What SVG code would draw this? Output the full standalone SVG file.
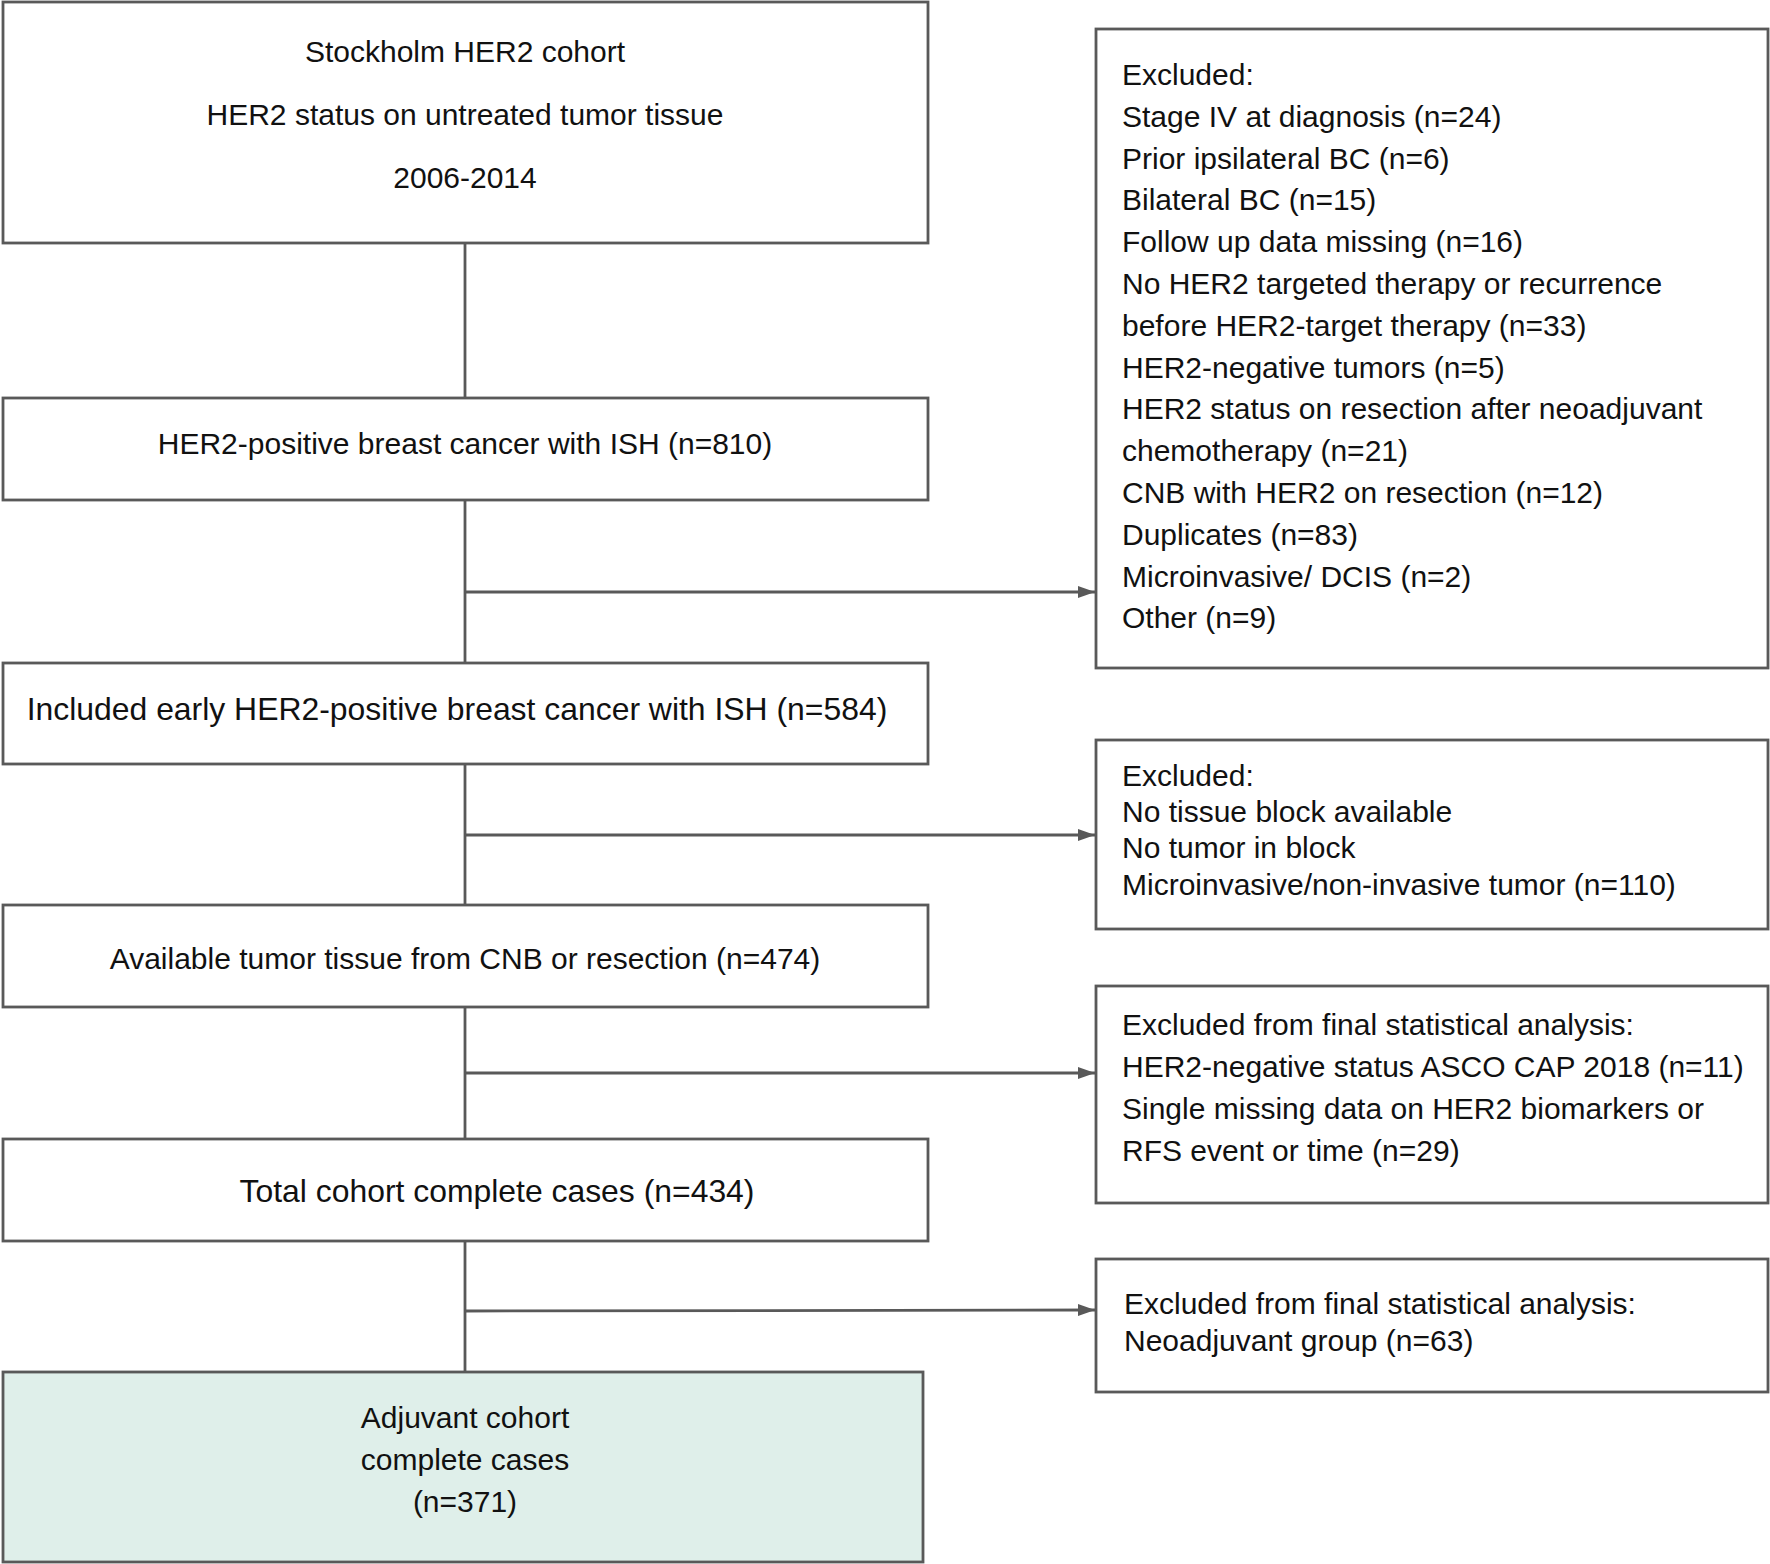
<svg xmlns="http://www.w3.org/2000/svg" width="1770" height="1564" viewBox="0 0 1770 1564">
<style>
.box{fill:#ffffff;stroke:#595959;stroke-width:2.8}
.green{fill:#dfefea;stroke:#595959;stroke-width:2.8}
.t{font-family:"Liberation Sans",Arial,sans-serif;font-size:30px;fill:#111111}
.big{font-size:31.9px}
.c{text-anchor:middle}
.line{stroke:#595959;stroke-width:2.8;fill:none}
</style>
<defs>
<marker id="arr" markerWidth="17" markerHeight="12" refX="17" refY="6" orient="auto" markerUnits="userSpaceOnUse">
<path d="M0,0 L17,6 L0,12 Z" fill="#595959"/>
</marker>
</defs>
<rect width="1770" height="1564" fill="#ffffff"/>
<g id="connectors">
<line class="line" x1="465" y1="243" x2="465" y2="397"/>
<line class="line" x1="465" y1="500" x2="465" y2="663"/>
<line class="line" x1="465" y1="764" x2="465" y2="905"/>
<line class="line" x1="465" y1="1007" x2="465" y2="1139"/>
<line class="line" x1="465" y1="1241" x2="465" y2="1372"/>
<line class="line" x1="465" y1="592" x2="1095" y2="592" marker-end="url(#arr)"/>
<line class="line" x1="465" y1="835" x2="1095" y2="835" marker-end="url(#arr)"/>
<line class="line" x1="465" y1="1073" x2="1095" y2="1073" marker-end="url(#arr)"/>
<line class="line" x1="465" y1="1311" x2="1095" y2="1310" marker-end="url(#arr)"/>
</g>
<g id="n1">
<rect class="box" x="3" y="2" width="925" height="241"/>
<text class="t c" x="465" y="62">Stockholm HER2 cohort</text>
<text class="t c" x="465" y="125">HER2 status on untreated tumor tissue</text>
<text class="t c" x="465" y="188">2006-2014</text>
</g>
<g id="n2">
<rect class="box" x="3" y="398" width="925" height="102"/>
<text class="t c" x="465" y="454">HER2-positive breast cancer with ISH (n=810)</text>
</g>
<g id="n3">
<rect class="box" x="3" y="663" width="925" height="101"/>
<text class="t big c" x="457" y="720">Included early HER2-positive breast cancer with ISH (n=584)</text>
</g>
<g id="n4">
<rect class="box" x="3" y="905" width="925" height="102"/>
<text class="t c" x="465" y="969">Available tumor tissue from CNB or resection (n=474)</text>
</g>
<g id="n5">
<rect class="box" x="3" y="1139" width="925" height="102"/>
<text class="t big c" x="497" y="1202">Total cohort complete cases (n=434)</text>
</g>
<g id="n6">
<rect class="green" x="3" y="1372" width="920" height="190"/>
<text class="t c" x="465" y="1428">Adjuvant cohort</text>
<text class="t c" x="465" y="1470">complete cases</text>
<text class="t c" x="465" y="1512">(n=371)</text>
</g>
<g id="e1">
<rect class="box" x="1096" y="29" width="672" height="639"/>
<text class="t" x="1122" y="85">Excluded:</text>
<text class="t" x="1122" y="127">Stage IV at diagnosis (n=24)</text>
<text class="t" x="1122" y="169">Prior ipsilateral BC (n=6)</text>
<text class="t" x="1122" y="210">Bilateral BC (n=15)</text>
<text class="t" x="1122" y="252">Follow up data missing (n=16)</text>
<text class="t" x="1122" y="294">No HER2 targeted therapy or recurrence</text>
<text class="t" x="1122" y="336">before HER2-target therapy (n=33)</text>
<text class="t" x="1122" y="378">HER2-negative tumors (n=5)</text>
<text class="t" x="1122" y="419">HER2 status on resection after neoadjuvant</text>
<text class="t" x="1122" y="461">chemotherapy (n=21)</text>
<text class="t" x="1122" y="503">CNB with HER2 on resection (n=12)</text>
<text class="t" x="1122" y="545">Duplicates (n=83)</text>
<text class="t" x="1122" y="587">Microinvasive/ DCIS (n=2)</text>
<text class="t" x="1122" y="628">Other (n=9)</text>
</g>
<g id="e2">
<rect class="box" x="1096" y="740" width="672" height="189"/>
<text class="t" x="1122" y="786">Excluded:</text>
<text class="t" x="1122" y="822">No tissue block available</text>
<text class="t" x="1122" y="858">No tumor in block</text>
<text class="t" x="1122" y="895">Microinvasive/non-invasive tumor (n=110)</text>
</g>
<g id="e3">
<rect class="box" x="1096" y="986" width="672" height="217"/>
<text class="t" x="1122" y="1035">Excluded from final statistical analysis:</text>
<text class="t" x="1122" y="1077">HER2-negative status ASCO CAP 2018 (n=11)</text>
<text class="t" x="1122" y="1119">Single missing data on HER2 biomarkers or</text>
<text class="t" x="1122" y="1161">RFS event or time (n=29)</text>
</g>
<g id="e4">
<rect class="box" x="1096" y="1259" width="672" height="133"/>
<text class="t" x="1124" y="1314">Excluded from final statistical analysis:</text>
<text class="t" x="1124" y="1351">Neoadjuvant group (n=63)</text>
</g>
</svg>
